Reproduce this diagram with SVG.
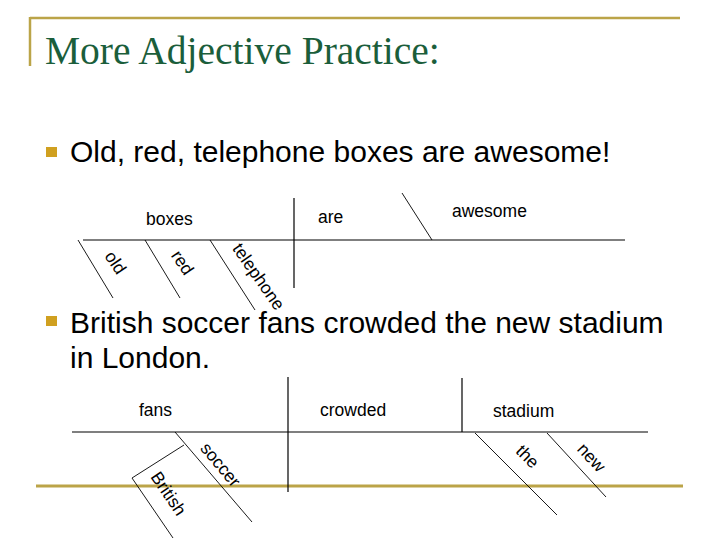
<svg xmlns="http://www.w3.org/2000/svg" width="720" height="540" viewBox="0 0 720 540">
<style>
.title{font-family:"Liberation Serif","Times New Roman",serif;font-size:39.5px;fill:#1b5e3b}
.body{font-family:"Liberation Sans",Arial,sans-serif;font-size:30px;fill:#000}
.lbl{font-family:"Liberation Sans",Arial,sans-serif;font-size:17.5px;fill:#000}
.rl{font-family:"Liberation Sans",Arial,sans-serif;font-size:17.5px;fill:#000;text-anchor:middle}
.ln{stroke:#000;stroke-width:1.2;fill:none}
.sl{stroke:#000;stroke-width:0.9;fill:none}
.gold{stroke:#bba448;fill:none}
.bullet{fill:#d0a020}
</style>
<rect width="720" height="540" fill="#fff"/>
<g id="frame">
<line class="gold" x1="30" y1="18" x2="680" y2="18" stroke-width="2.5"/>
<line class="gold" x1="30" y1="17" x2="30" y2="66" stroke-width="2.5"/>
<line class="gold" x1="36" y1="486" x2="683" y2="486" stroke-width="3"/>
</g>
<g id="title"><text class="title" x="45" y="64">More Adjective Practice:</text></g>
<g id="sentence1">
<rect class="bullet" x="46" y="147" width="11" height="10"/>
<text class="body" x="70" y="162">Old, red, telephone boxes are awesome!</text>
</g>
<g id="sentence2">
<rect class="bullet" x="46" y="316" width="11" height="10"/>
<text class="body" x="70" y="333">British soccer fans crowded the new stadium</text>
<text class="body" x="70" y="368">in London.</text>
</g>
<g id="connectors">
<line class="ln" x1="83" y1="240" x2="625" y2="240"/>
<line class="ln" x1="294" y1="198" x2="294" y2="288"/>
<line class="sl" x1="402" y1="193" x2="432" y2="240"/>
<line class="sl" x1="78" y1="240" x2="113" y2="298"/>
<line class="sl" x1="145" y1="240" x2="180" y2="298"/>
<line class="sl" x1="210" y1="240" x2="255" y2="310"/>
<line class="ln" x1="72" y1="432" x2="648" y2="432"/>
<line class="ln" x1="288" y1="377" x2="288" y2="492"/>
<line class="ln" x1="462" y1="378" x2="462" y2="432"/>
<line class="sl" x1="175" y1="432" x2="252" y2="522"/>
<line class="sl" x1="184" y1="445" x2="132" y2="478"/>
<line class="sl" x1="132" y1="478" x2="173" y2="538"/>
<line class="sl" x1="475" y1="433" x2="557" y2="515"/>
<line class="sl" x1="547" y1="433" x2="606" y2="497"/>
</g>
<g id="node-boxes"><text class="lbl" x="146" y="225">boxes</text></g>
<g id="node-are"><text class="lbl" x="318" y="223">are</text></g>
<g id="node-awesome"><text class="lbl" x="452" y="217">awesome</text></g>
<g id="node-old"><text class="rl" transform="translate(115,263) rotate(56)" dy="0.3em">old</text></g>
<g id="node-red"><text class="rl" transform="translate(182,263) rotate(56)" dy="0.3em">red</text></g>
<g id="node-telephone"><text class="rl" transform="translate(258,277) rotate(55)" dy="0.3em">telephone</text></g>
<g id="node-fans"><text class="lbl" x="139" y="416">fans</text></g>
<g id="node-crowded"><text class="lbl" x="320" y="416">crowded</text></g>
<g id="node-stadium"><text class="lbl" x="493" y="417">stadium</text></g>
<g id="node-soccer"><text class="rl" transform="translate(220,465) rotate(50)" dy="0.3em">soccer</text></g>
<g id="node-british"><text class="rl" transform="translate(168,494) rotate(56)" dy="0.3em">British</text></g>
<g id="node-the"><text class="rl" transform="translate(527,457) rotate(45)" dy="0.3em">the</text></g>
<g id="node-new"><text class="rl" transform="translate(591,458) rotate(47)" dy="0.3em">new</text></g>
</svg>
